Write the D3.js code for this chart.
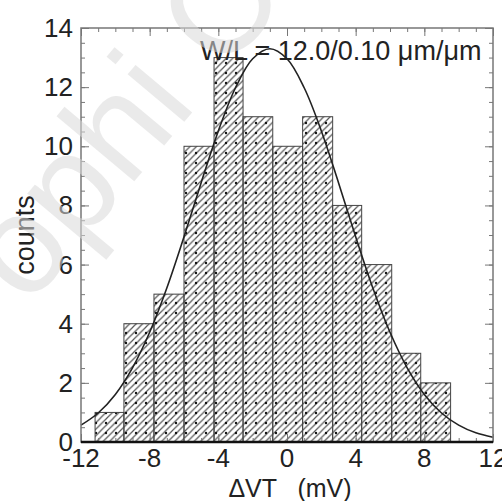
<!DOCTYPE html>
<html lang="en">
<head>
<meta charset="UTF-8">
<title>ΔVT histogram</title>
<script src="https://cdn.jsdelivr.net/npm/d3@7"></script>
<style>
  body { margin: 0; background: #fff; }
  svg { display: block; font-family: "Liberation Sans", Arial, sans-serif; }
</style>
</head>
<body>
<svg id="chart" width="502" height="501"></svg>
<script>
// bin edges (mV) and counts
var binEdges = [-11.18, -9.5, -7.75, -6.0, -4.25, -2.56, -0.83, 0.91, 2.66, 4.35, 6.1, 7.79, 9.53];
var counts = [1, 4, 5, 10, 13, 11, 10, 11, 8, 6, 3, 2];

// fitted curve, every 1 mV
var curveX = [-12, -11, -10, -9, -8, -7, -6, -5, -4, -3, -2, -1, 0, 1, 2, 3, 4, 5, 6, 7, 8, 9, 10, 11, 12];
var curveY = [0.57, 0.98, 1.61, 2.51, 3.71, 5.21, 6.94, 8.77, 10.52, 11.98, 12.96, 13.3, 12.96, 11.98, 10.52, 8.77, 6.94, 5.21, 3.71, 2.51, 1.61, 0.98, 0.57, 0.31, 0.16];

var xTicks = [-12, -8, -4, 0, 4, 8, 12];
var yTicks = [0, 2, 4, 6, 8, 10, 12, 14];

var svg = d3.select("#chart");
var width = 502, height = 501;
var margin = {top: 28, right: 9, bottom: 59, left: 81};
var w = width - margin.left - margin.right;
var h = height - margin.top - margin.bottom;

var defs = svg.append("defs");
var hatch = defs.append("pattern").attr("id", "hatch")
  .attr("patternUnits", "userSpaceOnUse").attr("width", 6.5).attr("height", 6.5);
hatch.append("path").attr("d", "M-1,1 l2,-2 M0,6.5 l6.5,-6.5 M5.5,7.5 l2,-2")
  .attr("stroke", "#555").attr("stroke-width", 1.2);
var dots = defs.append("pattern").attr("id", "dots")
  .attr("patternUnits", "userSpaceOnUse").attr("width", 10).attr("height", 10);
dots.append("circle").attr("cx", 5).attr("cy", 5).attr("r", 1.2).attr("fill", "#111");

var g = svg.append("g").attr("transform", "translate(" + margin.left + "," + margin.top + ")");

var x = d3.scaleLinear().domain([-12, 12]).range([0, w]);
var y = d3.scaleLinear().domain([0, 14]).range([h, 0]);

var bins = counts.map(function(c, i) { return {x0: binEdges[i], x1: binEdges[i + 1], n: c}; });

var bars = g.selectAll("g.bar").data(bins).enter().append("g").attr("class", "bar");
bars.append("rect")
  .attr("x", function(d) { return x(d.x0); })
  .attr("y", function(d) { return y(d.n); })
  .attr("width", function(d) { return x(d.x1) - x(d.x0); })
  .attr("height", function(d) { return h - y(d.n); })
  .attr("fill", "url(#hatch)");
bars.append("rect")
  .attr("x", function(d) { return x(d.x0); })
  .attr("y", function(d) { return y(d.n); })
  .attr("width", function(d) { return x(d.x1) - x(d.x0); })
  .attr("height", function(d) { return h - y(d.n); })
  .attr("fill", "url(#dots)")
  .attr("stroke", "#444").attr("stroke-width", 1);

// fit curve
var line = d3.line()
  .x(function(d, i) { return x(curveX[i]); })
  .y(function(d) { return y(d); })
  .curve(d3.curveCatmullRom);
g.append("path").datum(curveY)
  .attr("d", line)
  .attr("fill", "none").attr("stroke", "#222").attr("stroke-width", 1.6);

// axes with inward ticks, minor ticks on all four sides
function minor(axis, scale, vals, len) {
  return axis(scale).tickValues(vals).tickSize(len).tickFormat("");
}
var xMinor = d3.range(-12, 12.01, 1);
var yMinor = d3.range(0, 14.01, 0.5);

g.append("g").attr("transform", "translate(0," + h + ")").call(minor(d3.axisTop, x, xMinor, 4));
g.append("g").attr("transform", "translate(0," + h + ")").call(minor(d3.axisTop, x, xTicks, 8));
g.append("g").call(minor(d3.axisBottom, x, xMinor, 4));
g.append("g").call(minor(d3.axisBottom, x, xTicks, 8));
g.append("g").call(minor(d3.axisRight, y, yMinor, 4));
g.append("g").call(minor(d3.axisRight, y, yTicks, 8));
g.append("g").attr("transform", "translate(" + w + ",0)").call(minor(d3.axisLeft, y, yMinor, 4));
g.append("g").attr("transform", "translate(" + w + ",0)").call(minor(d3.axisLeft, y, yTicks, 8));
g.selectAll(".domain").remove();
g.selectAll(".tick line").attr("stroke", "#777");

// frame
g.append("rect").attr("width", w).attr("height", h)
  .attr("fill", "none").attr("stroke", "#777").attr("stroke-width", 1.5);
g.append("line").attr("x1", 0).attr("x2", w).attr("y1", h).attr("y2", h)
  .attr("stroke", "#111").attr("stroke-width", 2.5);

// tick labels
g.selectAll("text.xl").data(xTicks).enter().append("text")
  .attr("x", function(d) { return x(d); })
  .attr("y", h + 25)
  .attr("text-anchor", "middle")
  .attr("font-size", 26).attr("fill", "#222")
  .text(function(d) { return d; });
g.selectAll("text.yl").data(yTicks).enter().append("text")
  .attr("x", -8)
  .attr("y", function(d) { return y(d) + 9; })
  .attr("text-anchor", "end")
  .attr("font-size", 26).attr("fill", "#222")
  .text(function(d) { return d; });

// labels
svg.append("text")
  .attr("x", margin.left + w / 2 + 3).attr("y", 497)
  .attr("text-anchor", "middle")
  .attr("font-size", 25).attr("fill", "#222")
  .style("white-space", "pre")
  .text("\u0394VT   (mV)");
svg.append("text")
  .attr("transform", "translate(34,235) rotate(-90)")
  .attr("text-anchor", "middle")
  .attr("font-size", 27).attr("fill", "#222")
  .text("counts");
svg.append("text")
  .attr("x", 200).attr("y", 60)
  .attr("font-size", 27).attr("fill", "#222")
  .text("W/L = 12.0/0.10 \u03bcm/\u03bcm");

// faint watermark lying over the chart
svg.append("text")
  .attr("transform", "translate(28,308) rotate(-50)")
  .attr("font-size", 140)
  .attr("fill", "#d8d8d8").attr("fill-opacity", 0.55)
  .text("ophi C");
</script>
</body>
</html>
